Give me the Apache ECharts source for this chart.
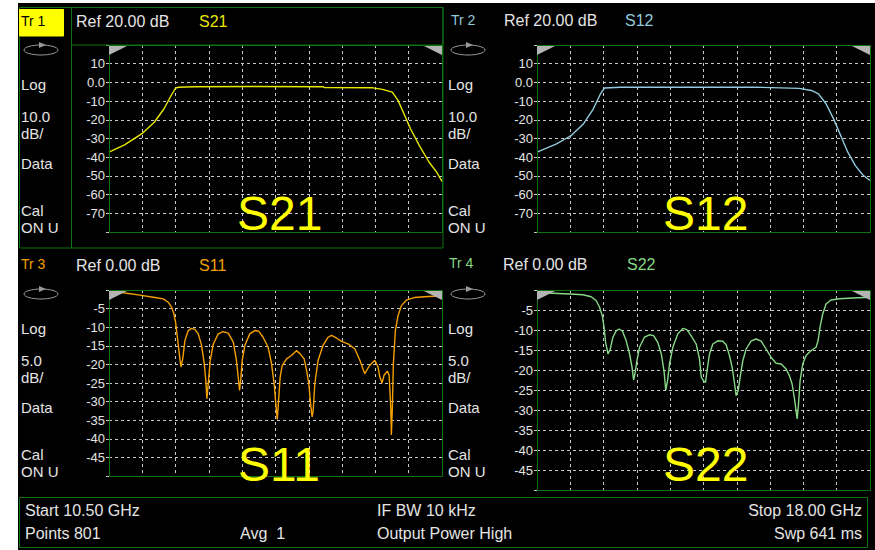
<!DOCTYPE html>
<html>
<head>
<meta charset="utf-8">
<title>VNA S-parameters</title>
<script src="https://cdn.jsdelivr.net/npm/echarts@6/dist/echarts.min.js"></script>
<style>
  html, body { margin: 0; padding: 0; background: #fff; }
  #chart { width: 875px; height: 550px; }
</style>
</head>
<body>
<div id="chart"></div>
<script>
// --- trace data (GHz / dB) -------------------------------------------------
const s21Freq = [10.5, 10.85, 11.26, 11.52, 11.74, 11.9, 12.0, 12.07, 12.4, 13.73, 15.33, 15.35, 16.44, 16.66, 16.88, 17.01, 17.16, 17.29, 17.49, 17.71, 17.88, 18.0];
const s21Db = [-37.3, -33.4, -27.1, -21.3, -14.1, -7.0, -3.0, -2.6, -2.3, -2.2, -2.3, -2.8, -2.9, -3.75, -5.2, -9.6, -17.7, -24.8, -33.8, -42.7, -48.0, -53.0];

const s12Freq = [10.5, 10.94, 11.27, 11.55, 11.77, 11.93, 12.02, 12.38, 15.35, 16.4, 16.68, 16.84, 17.01, 17.18, 17.34, 17.5, 17.67, 17.84, 18.0];
const s12Db = [-37.3, -32.9, -28.4, -22.1, -14.1, -6.1, -3.0, -2.6, -2.5, -3.2, -4.3, -6.1, -11.4, -19.5, -28.4, -37.3, -44.5, -49.5, -52.5];

const s11Freq = [10.5, 10.71, 10.86, 11.16, 11.535, 11.72, 11.835, 11.91, 11.96, 12.0, 12.04, 12.075, 12.12, 12.16, 12.21, 12.285, 12.36, 12.435, 12.51, 12.585,
  12.645, 12.68, 12.705, 12.735, 12.78, 12.85, 12.96, 13.07, 13.185, 13.3, 13.37, 13.41, 13.44, 13.47, 13.5, 13.56, 13.67, 13.785, 13.875, 13.97,
  14.085, 14.16, 14.22, 14.25, 14.29, 14.32, 14.355, 14.4, 14.5, 14.61, 14.72, 14.8, 14.895, 14.95, 15.0, 15.04, 15.075, 15.1, 15.135, 15.21,
  15.32, 15.435, 15.51, 15.62, 15.735, 15.885, 16.035, 16.15, 16.26, 16.37, 16.485, 16.56, 16.6, 16.65, 16.695, 16.77, 16.81, 16.845, 16.86, 16.88,
  16.905, 16.95, 17.01, 17.085, 17.2, 17.385, 17.61, 17.91, 18.0];
const s11Db = [-0.4, -0.5, -0.8, -1.3, -2.0, -2.4, -3.3, -4.6, -6.4, -8.7, -12.7, -16.3, -20.7, -18.5, -13.6, -10.9, -10.3, -10.6, -11.8, -14.9,
  -19.8, -24.3, -29.2, -25.2, -18.9, -14.5, -11.8, -11.2, -11.6, -14.0, -18.9, -23.4, -27.0, -23.8, -18.9, -14.9, -11.8, -10.9, -11.1, -12.7,
  -15.4, -19.8, -25.2, -29.6, -34.8, -29.6, -23.4, -20.3, -18.5, -17.6, -16.3, -17.1, -18.5, -21.6, -25.2, -30.5, -34.1, -32.3, -25.2, -18.9,
  -14.9, -12.7, -12.2, -12.9, -13.8, -14.5, -15.8, -18.9, -22.5, -20.3, -18.9, -20.7, -23.4, -25.0, -22.9, -21.8, -22.9, -31.4, -39.0, -32.3,
  -19.8, -10.9, -6.9, -4.2, -2.7, -2.0, -1.8, -1.6, -1.5];

const s22Freq = [10.5, 10.86, 11.235, 11.535, 11.72, 11.835, 11.91, 11.97, 12.01, 12.045, 12.1, 12.15, 12.21, 12.285, 12.345, 12.42, 12.51, 12.585, 12.64, 12.675,
  12.705, 12.75, 12.81, 12.92, 13.035, 13.125, 13.22, 13.3, 13.36, 13.4, 13.44, 13.485, 13.56, 13.67, 13.785, 13.875, 13.97, 14.085, 14.16, 14.2,
  14.25, 14.295, 14.33, 14.385, 14.46, 14.57, 14.685, 14.76, 14.835, 14.895, 14.95, 14.985, 15.03, 15.075, 15.135, 15.21, 15.32, 15.435, 15.55, 15.66,
  15.77, 15.885, 16.0, 16.11, 16.185, 16.245, 16.3, 16.335, 16.36, 16.39, 16.425, 16.485, 16.56, 16.67, 16.785, 16.83, 16.875, 16.935, 17.01, 17.12,
  17.31, 17.61, 18.0];
const s22Db = [-0.7, -0.8, -1.0, -1.2, -1.7, -2.7, -4.3, -6.4, -9.3, -13.1, -16.0, -14.75, -11.8, -10.2, -9.75, -10.2, -12.7, -16.0, -19.3, -22.5,
  -21.0, -17.7, -14.3, -11.8, -11.2, -11.4, -13.1, -16.0, -20.2, -25.0, -22.7, -18.5, -14.3, -11.0, -9.6, -9.9, -11.4, -13.5, -17.25, -21.8,
  -22.7, -23.1, -20.2, -16.0, -13.5, -12.7, -12.8, -13.7, -16.4, -19.3, -23.5, -26.4, -25.2, -21.8, -17.7, -14.75, -12.8, -12.25, -12.8, -14.75,
  -16.8, -18.3, -18.5, -19.75, -21.4, -23.5, -27.25, -30.2, -32.25, -28.5, -22.7, -18.5, -16.4, -15.2, -14.3, -12.7, -9.3, -6.0, -3.5, -2.5,
  -2.2, -2.0, -1.8];

// tick labels printed on the screen (top row 10 dB/div, bottom row 5 dB/div)
const topTickLabels = ["10", "0.0", "-10", "-20", "-30", "-40", "-50", "-60", "-70"];
const bottomTickLabels = ["-5", "-10", "-15", "-20", "-25", "-30", "-35", "-40", "-45"];

// --- look ------------------------------------------------------------------
const FONT = "'Liberation Sans', Arial, sans-serif";
const GREEN = "#0f730f";
const GRIDC = "#c8c8c8";
const TXT = "#e4e4e4";
const C_S21 = "#e8e800", C_S12 = "#92cade", C_S11 = "#f5a000", C_S22 = "#86d886";

const zip = (xs, ys) => xs.map((x, i) => [x, ys[i]]);
const dashed = { show: true, showMinLine: false, showMaxLine: false, lineStyle: { color: GRIDC, width: 1, type: [3, 3] } };

function xAxisFor(gi) {
  return {
    type: "value", gridIndex: gi, min: 10.5, max: 18, interval: 0.75,
    axisLabel: { show: false }, axisTick: { show: false }, axisLine: { show: false },
    splitLine: dashed,
  };
}
function yAxisFor(gi, min, max, step, labels) {
  return {
    type: "value", gridIndex: gi, min, max, interval: step,
    axisLine: { show: false },
    axisTick: { show: true, length: 3, lineStyle: { color: GRIDC } },
    axisLabel: {
      color: TXT, fontSize: 13, fontFamily: FONT, margin: 4,
      formatter: (v) => labels.find((t) => Number(t) === v) ?? "",
    },
    splitLine: dashed,
  };
}
function trace(gi, data, color) {
  return {
    type: "line", xAxisIndex: gi, yAxisIndex: gi, data, showSymbol: false, silent: true,
    lineStyle: { color, width: 1.4 }, animation: false,
  };
}

// --- screen furniture ------------------------------------------------------
const g = [];
const txt = (x, y, s, fill = TXT, size = 15, align = "left") =>
  g.push({ type: "text", z: 50, style: { x, y, text: s, fill, font: `${size}px ${FONT}`, textAlign: align, textVerticalAlign: "middle" } });
const box = (x, y, w, h, stroke = GREEN, fill = "transparent", z = 40) =>
  g.push({ type: "rect", z, shape: { x, y, width: w, height: h }, style: { stroke, fill, lineWidth: 1 } });
const tri = (pts) => g.push({ type: "polygon", z: 45, shape: { points: pts }, style: { fill: "#b4b4b4" } });
function icon(cx, cy) {
  g.push({ type: "ellipse", z: 45, shape: { cx, cy, rx: 17, ry: 5 }, style: { stroke: "#9a9a9a", fill: "transparent", lineWidth: 1 } });
  g.push({ type: "polygon", z: 45, shape: { points: [[cx - 2, cy - 8], [cx + 5, cy - 5], [cx - 2, cy - 2]] }, style: { fill: "#9a9a9a" } });
}
function sidebar(x, y0, scale) {
  icon(x + 20, y0 + 30);
  txt(x, y0 + 64, "Log");
  txt(x, y0 + 96, scale);
  txt(x, y0 + 113, "dB/");
  txt(x, y0 + 143, "Data");
  txt(x, y0 + 190, "Cal");
  txt(x, y0 + 207, "ON U");
}
// plot frame in green plus the grey reference-level wedges at the top corners
function plotFrame(l, t, r, b) {
  box(l + 0.5, t + 0.5, r - l, b - t);
  tri([[l, t + 1], [l + 18, t + 1], [l, t + 10]]);
  tri([[r - 18, t + 1], [r, t + 1], [r, t + 10]]);
}

// white margin around the instrument screen
g.push({ type: "rect", z: 1, shape: { x: 0, y: 0, width: 18, height: 550 }, style: { fill: "#fff" } });
g.push({ type: "rect", z: 1, shape: { x: 0, y: 0, width: 875, height: 3 }, style: { fill: "#fff" } });

// Tr 1 (active) frame
box(19.5, 7.5, 423.5, 240.5);
g.push({ type: "line", z: 40, shape: { x1: 71.5, y1: 7.5, x2: 71.5, y2: 248 }, style: { stroke: GREEN, lineWidth: 1 } });
box(71.5, 7.5, 371.5, 37.5);
box(19.5, 9.5, 44, 26.5, "#ffff00", "#ffff00", 41);
txt(21, 21, "Tr 1", "#000", 14);
txt(76, 21, "Ref 20.00 dB", TXT, 16);
txt(199, 21, "S21", C_S21, 16);
sidebar(21, 20, "10.0");

txt(451, 20, "Tr 2", C_S12, 14);
txt(504, 20, "Ref 20.00 dB", TXT, 16);
txt(625, 20, "S12", C_S12, 16);
sidebar(448, 20, "10.0");

txt(21, 264, "Tr 3", C_S11, 14);
txt(76, 265, "Ref 0.00 dB", TXT, 16);
txt(199, 265, "S11", C_S11, 16);
sidebar(21, 264, "5.0");

txt(449, 263, "Tr 4", C_S22, 14);
txt(503, 264, "Ref 0.00 dB", TXT, 16);
txt(627, 264, "S22", C_S22, 16);
sidebar(448, 264, "5.0");

plotFrame(109, 45, 442, 232);
plotFrame(537, 45, 870, 232);
plotFrame(109, 290, 442, 476);
plotFrame(537, 290, 870, 490);

// status bar
box(19.5, 497.5, 848, 50);
txt(25, 510, "Start 10.50 GHz", TXT, 16);
txt(25, 533, "Points 801", TXT, 16);
txt(240, 533, "Avg  1", TXT, 16);
txt(377, 510, "IF BW 10 kHz", TXT, 16);
txt(377, 533, "Output Power High", TXT, 16);
txt(862, 510, "Stop 18.00 GHz", TXT, 16, "right");
txt(862, 533, "Swp 641 ms", TXT, 16, "right");

// big yellow captions
const cap = (x, y, s) =>
  g.push({ type: "text", z: 100, style: { x, y, text: s, fill: "#ffff00", font: `48px ${FONT}`, textAlign: "left", textVerticalAlign: "top" } });
cap(237, 189, "S21");
cap(663, 189, "S12");
cap(238, 440, "S11");
cap(663, 440, "S22");

// --- chart -----------------------------------------------------------------
const gridBox = (left, top, height) => ({ left, top, width: 333, height, show: false });

const chart = echarts.init(document.getElementById("chart"), null, { renderer: "svg" });
chart.setOption({
  backgroundColor: "#000",
  animation: false,
  grid: [gridBox(109, 45, 187), gridBox(537, 45, 187), gridBox(109, 290, 186), gridBox(537, 290, 200)],
  xAxis: [xAxisFor(0), xAxisFor(1), xAxisFor(2), xAxisFor(3)],
  yAxis: [
    yAxisFor(0, -80, 20, 10, topTickLabels),
    yAxisFor(1, -80, 20, 10, topTickLabels),
    yAxisFor(2, -50, 0, 5, bottomTickLabels),
    yAxisFor(3, -50, 0, 5, bottomTickLabels),
  ],
  series: [
    trace(0, zip(s21Freq, s21Db), C_S21),
    trace(1, zip(s12Freq, s12Db), C_S12),
    trace(2, zip(s11Freq, s11Db), C_S11),
    trace(3, zip(s22Freq, s22Db), C_S22),
  ],
  graphic: g,
});
</script>
</body>
</html>
